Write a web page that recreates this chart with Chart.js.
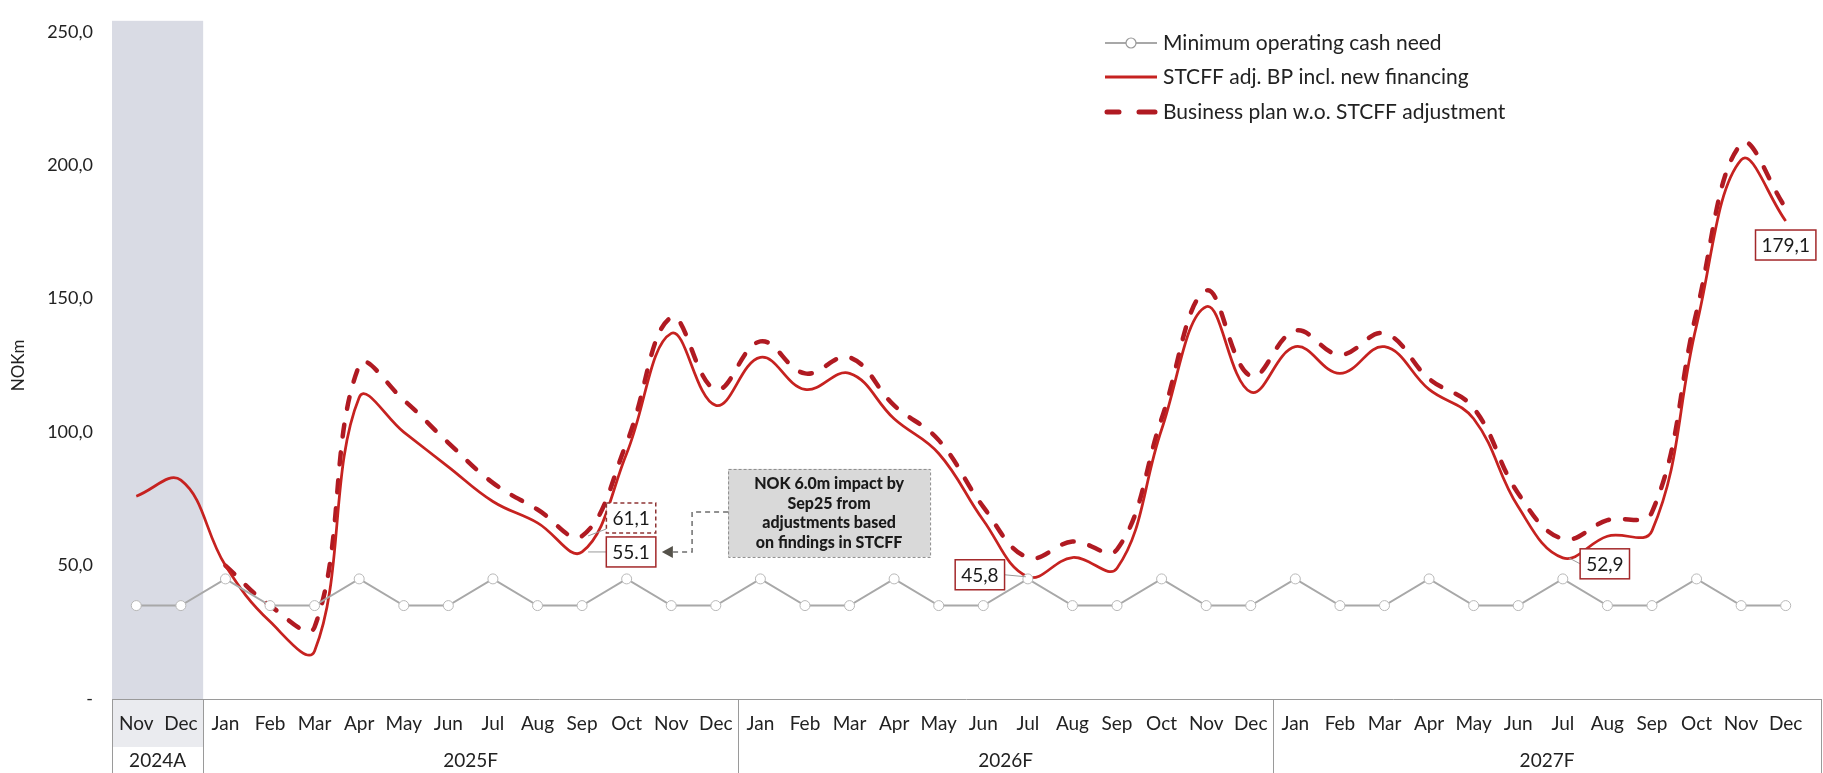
<!DOCTYPE html>
<html>
<head>
<meta charset="utf-8">
<title>Cash forecast</title>
<script src="https://cdn.jsdelivr.net/npm/chart.js@4.4.1/dist/chart.umd.min.js"></script>
<style>
  html, body { margin: 0; padding: 0; background: #fff; }
  #wrap { width: 1823px; height: 773px; position: relative; }
</style>
</head>
<body>
<div id="wrap"><canvas id="cashChart" width="1823" height="773"></canvas></div>
<script>
const FONT = "Lato, 'Open Sans', sans-serif";
const TEXT = "#222222";

// Months shown on the axis (Nov 2024 - Dec 2027)
const monthNames = ["Jan", "Feb", "Mar", "Apr", "May", "Jun", "Jul", "Aug", "Sep", "Oct", "Nov", "Dec"];
const months = ["Nov", "Dec"].concat(monthNames, monthNames, monthNames);
const years = ["2024A", "2025F", "2026F", "2027F"];
const yearSpan = [2, 12, 12, 12];

// NOKm
const minCashNeed = [
  35, 35,
  45, 35, 35, 45, 35, 35, 45, 35, 35, 45, 35, 35,
  45, 35, 35, 45, 35, 35, 45, 35, 35, 45, 35, 35,
  45, 35, 35, 45, 35, 35, 45, 35, 35, 45, 35, 35
];
const stcffAdjusted = [
  76, 82,
  50, 29, 18, 113, 100, 87, 74, 66, 55.1, 92, 137, 110,
  128, 116, 122, 105, 92, 67, 45.8, 53, 49, 101, 147, 115,
  132, 122, 132, 116, 105, 72, 52.9, 61, 63, 140, 202, 179.1
];
const businessPlan = [
  null, null,
  50, 35, 27, 125, 112, 96, 81, 71, 61.1, 96, 143, 116,
  134, 122, 128, 110, 97, 72, 53, 59, 56, 105, 153, 121,
  138, 129, 137, 120, 109, 77, 60, 67, 70, 145, 208, 184
];

const yTicks = [0, 50, 100, 150, 200, 250];
const seriesNames = [
  "Minimum operating cash need",
  "STCFF adj. BP incl. new financing",
  "Business plan w.o. STCFF adjustment"
];
const calloutLines = ["NOK 6.0m impact by", "Sep25 from", "adjustments based", "on findings in STCFF"];

// value boxes: dataset index, point index, decimal separator
const valueLabels = [
  { ds: 2, i: 10, sep: ",", dx: 49, dy: -18, dashed: true },
  { ds: 1, i: 10, sep: ".", dx: 49, dy: 0 },
  { ds: 1, i: 20, sep: ",", dx: -48, dy: -2 },
  { ds: 1, i: 32, sep: ",", dx: 42, dy: 6 },
  { ds: 1, i: 37, sep: ",", dx: 0, dy: 24 }
];

const GREY = "#a8a8a8";
const RED = "#c62220";
const RED_DASH = "#b01a22";

function drawBox(ctx, cx, cy, w, h, fill, stroke, dash) {
  ctx.save();
  ctx.fillStyle = fill;
  ctx.fillRect(cx - w / 2, cy - h / 2, w, h);
  ctx.strokeStyle = stroke;
  ctx.lineWidth = 1.5;
  ctx.setLineDash(dash || []);
  ctx.strokeRect(cx - w / 2, cy - h / 2, w, h);
  ctx.restore();
}

const decor = {
  id: "decor",
  beforeDraw(chart) {
    const { ctx, chartArea: a, scales: { x } } = chart;
    const half = (x.getPixelForValue(1) - x.getPixelForValue(0)) / 2;
    const x0 = a.left - 2;
    const x1 = x.getPixelForValue(1) + half;
    ctx.save();
    // 2024 actuals band
    ctx.fillStyle = "#d9dbe4";
    ctx.fillRect(x0, a.top - 11, x1 - x0, a.bottom - a.top + 11);
    ctx.fillStyle = "#eaebef";
    ctx.fillRect(x0, a.bottom, x1 - x0, 48);
    ctx.restore();
  },
  afterDraw(chart) {
    const { ctx, chartArea: a, scales: { x }, width, height } = chart;
    const half = (x.getPixelForValue(1) - x.getPixelForValue(0)) / 2;
    ctx.save();

    // label table under the axis
    ctx.strokeStyle = "#9a9a9a";
    ctx.lineWidth = 1;
    const left = a.left - 2, right = width - 2;
    ctx.beginPath();
    ctx.moveTo(left, a.bottom + 0.5);
    ctx.lineTo(right, a.bottom + 0.5);
    const edges = [left];
    let k = 0;
    yearSpan.forEach(n => { k += n; edges.push(k < months.length ? x.getPixelForValue(k) - half : right); });
    edges.forEach(px => {
      ctx.moveTo(Math.round(px) + 0.5, a.bottom);
      ctx.lineTo(Math.round(px) + 0.5, height);
    });
    ctx.stroke();

    ctx.fillStyle = TEXT;
    ctx.font = "19px " + FONT;
    ctx.textAlign = "center";
    ctx.textBaseline = "middle";
    years.forEach((y, j) => ctx.fillText(y, (edges[j] + edges[j + 1]) / 2, a.bottom + 62));

    // value boxes
    ctx.font = "19px " + FONT;
    valueLabels.forEach(l => {
      const pt = chart.getDatasetMeta(l.ds).data[l.i];
      const v = chart.data.datasets[l.ds].data[l.i];
      const txt = v.toFixed(1).replace(".", l.sep);
      const w = ctx.measureText(txt).width + 12, h = 30;
      const cx = pt.x + l.dx, cy = pt.y + l.dy;
      if (Math.abs(l.dx) > 30) {
        ctx.strokeStyle = "#9a9a9a";
        ctx.lineWidth = 1;
        ctx.beginPath();
        ctx.moveTo(pt.x + (l.dx > 0 ? 6 : -2), pt.y);
        ctx.lineTo(cx - Math.sign(l.dx) * w / 2, l.dy < -10 ? cy + h / 2 - 4 : cy);
        ctx.stroke();
      }
      drawBox(ctx, cx, cy, w, h, "#fff", l.dashed ? "#8e3434" : "#a3282a", l.dashed ? [4, 3] : null);
      ctx.fillStyle = "#1a1a1a";
      ctx.fillText(txt, cx, cy + 1);
      l.box = { cx, cy, w, h };
    });

    // callout pointing at the Sep25 adjusted box
    const ref = valueLabels[1].box;
    const bl = ref.cx + 97, bt = ref.cy - 83, bw = 202, bh = 88;
    ctx.fillStyle = "#d9d9d9";
    ctx.fillRect(bl, bt, bw, bh);
    ctx.strokeStyle = "#8c8c8c";
    ctx.lineWidth = 1;
    ctx.setLineDash([3, 2]);
    ctx.strokeRect(bl + 0.5, bt + 0.5, bw, bh);
    ctx.strokeStyle = "#6e6e6e";
    ctx.lineWidth = 1.5;
    ctx.setLineDash([5, 4]);
    const cxTurn = ref.cx + 61;
    ctx.beginPath();
    ctx.moveTo(bl, bt + 43);
    ctx.lineTo(cxTurn, bt + 43);
    ctx.lineTo(cxTurn, ref.cy);
    ctx.lineTo(ref.cx + ref.w / 2 + 16, ref.cy);
    ctx.stroke();
    ctx.setLineDash([]);
    ctx.fillStyle = "#55524a";
    ctx.beginPath();
    const tip = ref.cx + ref.w / 2 + 6;
    ctx.moveTo(tip, ref.cy);
    ctx.lineTo(tip + 11, ref.cy - 6);
    ctx.lineTo(tip + 11, ref.cy + 6);
    ctx.closePath();
    ctx.fill();

    ctx.fillStyle = "#1a1a1a";
    ctx.font = "900 16px " + FONT;
    calloutLines.forEach((t, j) => ctx.fillText(t, bl + bw / 2, bt + 15 + j * 19.5));

    // legend
    const lx = 1105, lw = 52, tx = 1163;
    const rows = [43, 77, 112];
    ctx.font = "21px " + FONT;
    ctx.textAlign = "left";
    ctx.fillStyle = TEXT;
    rows.forEach((ry, j) => ctx.fillText(seriesNames[j], tx, ry));
    ctx.lineCap = "butt";
    ctx.strokeStyle = GREY;
    ctx.lineWidth = 2;
    ctx.beginPath();
    ctx.moveTo(lx, rows[0]);
    ctx.lineTo(lx + lw, rows[0]);
    ctx.stroke();
    ctx.beginPath();
    ctx.arc(lx + lw / 2, rows[0], 5, 0, Math.PI * 2);
    ctx.fillStyle = "#fff";
    ctx.fill();
    ctx.lineWidth = 1.2;
    ctx.strokeStyle = "#999";
    ctx.stroke();
    ctx.strokeStyle = RED;
    ctx.lineWidth = 3;
    ctx.beginPath();
    ctx.moveTo(lx, rows[1]);
    ctx.lineTo(lx + lw, rows[1]);
    ctx.stroke();
    ctx.strokeStyle = RED_DASH;
    ctx.lineWidth = 5;
    ctx.lineCap = "round";
    ctx.beginPath();
    ctx.moveTo(lx + 2, rows[2]);
    ctx.lineTo(lx + 14, rows[2]);
    ctx.moveTo(lx + 34, rows[2]);
    ctx.lineTo(lx + 50, rows[2]);
    ctx.stroke();

    ctx.restore();
  }
};

const ctx = document.getElementById("cashChart").getContext("2d");

new Chart(ctx, {
  type: "line",
  data: {
    labels: months,
    datasets: [
      {
        label: seriesNames[0],
        data: minCashNeed,
        borderColor: GREY,
        borderWidth: 2,
        pointRadius: 5,
        pointBackgroundColor: "#fff",
        pointBorderColor: "#b8b8b8",
        pointBorderWidth: 1,
        tension: 0,
        order: 0
      },
      {
        label: seriesNames[1],
        data: stcffAdjusted,
        borderColor: RED,
        borderWidth: 2.75,
        pointRadius: 0,
        tension: 0.4,
        order: 1
      },
      {
        label: seriesNames[2],
        data: businessPlan,
        borderColor: RED_DASH,
        borderWidth: 4.5,
        borderDash: [12, 16],
        borderCapStyle: "round",
        pointRadius: 0,
        tension: 0.4,
        spanGaps: false,
        order: 2
      }
    ]
  },
  options: {
    responsive: false,
    animation: false,
    layout: { padding: { top: 21, right: 15, bottom: 0, left: 0 } },
    plugins: {
      legend: { display: false },
      tooltip: { enabled: false }
    },
    scales: {
      x: {
        offset: true,
        grid: { display: false, drawTicks: false },
        border: { display: false },
        ticks: {
          autoSkip: false,
          maxRotation: 0,
          padding: 13,
          color: TEXT,
          font: { family: FONT, size: 19 }
        },
        afterFit(scale) { scale.height = 74; }
      },
      y: {
        min: 0,
        max: 250,
        afterBuildTicks(scale) { scale.ticks = yTicks.map(v => ({ value: v })); },
        grid: { display: false, drawTicks: false },
        border: { display: false },
        ticks: {
          padding: 21,
          color: TEXT,
          font: { family: FONT, size: 18 },
          callback: v => v === 0 ? "-" : v.toFixed(1).replace(".", ",")
        },
        title: {
          display: true,
          text: "NOKm",
          color: TEXT,
          padding: { top: 8, bottom: 0 },
          font: { family: FONT, size: 17 }
        },
        afterFit(scale) { scale.width = 114; }
      }
    }
  },
  plugins: [decor]
});
</script>
</body>
</html>
